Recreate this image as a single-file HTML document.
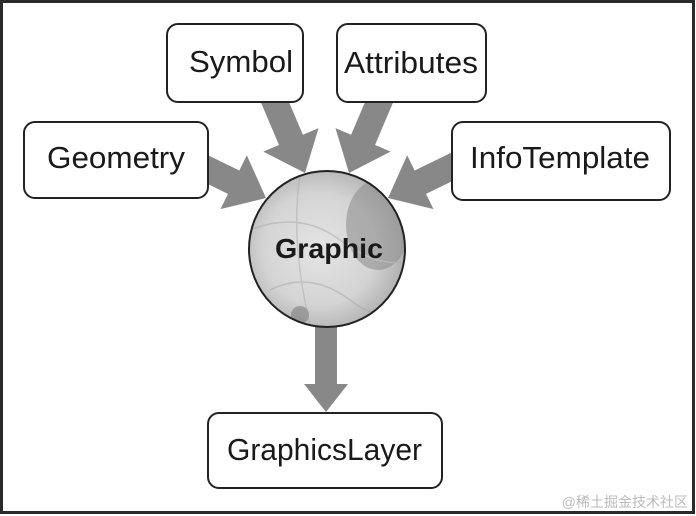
<!DOCTYPE html>
<html><head><meta charset="utf-8"><style>
html,body{margin:0;padding:0;background:#fff;}
svg{display:block;}
</style></head><body>
<svg width="696" height="516" viewBox="0 0 696 516" xmlns="http://www.w3.org/2000/svg">
<defs>
<radialGradient id="g" cx="0.45" cy="0.5" r="0.6">
<stop offset="0" stop-color="#e4e4e4"/>
<stop offset="0.6" stop-color="#d4d4d4"/>
<stop offset="1" stop-color="#a8a8a8"/>
</radialGradient>
<clipPath id="c"><circle cx="327" cy="249" r="78"/></clipPath>
</defs>
<rect x="1.5" y="1.5" width="692" height="511" fill="#fff" stroke="#2a2a2a" stroke-width="3"/>
<g fill="#888">
<g transform="translate(305,173) rotate(67)"><polygon points="0,0 -36,-30 -36,-13 -84,-13 -84,13 -36,13 -36,30"/></g>
<g transform="translate(349,173) rotate(113)"><polygon points="0,0 -36,-30 -36,-13 -84,-13 -84,13 -36,13 -36,30"/></g>
<g transform="translate(266,198) rotate(26)"><polygon points="0,0 -36,-30 -36,-13 -70,-13 -70,13 -36,13 -36,30"/></g>
<g transform="translate(388,198) rotate(154)"><polygon points="0,0 -36,-30 -36,-13 -76,-13 -76,13 -36,13 -36,30"/></g>
<g transform="translate(326,412) rotate(90)"><polygon points="0,0 -28,-22 -28,-11 -88,-11 -88,11 -28,11 -28,22"/></g>
</g>
<circle cx="327" cy="249" r="78" fill="url(#g)"/>
<g clip-path="url(#c)" opacity="0.55">
<ellipse cx="378" cy="225" rx="32" ry="45" fill="#8a8a8a"/>
<path d="M250 230 Q300 210 340 240 T410 260" stroke="#aaa" fill="none" stroke-width="1.5"/>
<path d="M270 290 Q310 270 350 300 T400 290" stroke="#aaa" fill="none" stroke-width="1.5"/>
<path d="M300 175 Q290 240 310 325" stroke="#b0b0b0" fill="none" stroke-width="1.5"/>
<circle cx="300" cy="315" r="9" fill="#777"/>
</g>
<circle cx="327" cy="249" r="78" fill="none" stroke="#222" stroke-width="2"/>
<text x="329" y="258" text-anchor="middle" font-family="Liberation Sans, sans-serif" font-size="28" font-weight="bold" fill="#1a1a1a" textLength="108" lengthAdjust="spacingAndGlyphs">Graphic</text>
<g fill="#fff" stroke="#222" stroke-width="2">
<rect x="167" y="24" width="136" height="78" rx="11"/>
<rect x="337" y="24" width="149" height="78" rx="11"/>
<rect x="24" y="122" width="184" height="76" rx="11"/>
<rect x="452" y="122" width="218" height="78" rx="11"/>
<rect x="208" y="413" width="234" height="75" rx="11"/>
</g>
<g font-family="Liberation Sans, sans-serif" font-size="31" fill="#1a1a1a">
<text x="189" y="72" textLength="104" lengthAdjust="spacingAndGlyphs">Symbol</text>
<text x="344" y="73" textLength="134" lengthAdjust="spacingAndGlyphs">Attributes</text>
<text x="47" y="168" textLength="138" lengthAdjust="spacingAndGlyphs">Geometry</text>
<text x="470" y="168" textLength="180" lengthAdjust="spacingAndGlyphs">InfoTemplate</text>
<text x="227" y="460" textLength="195" lengthAdjust="spacingAndGlyphs">GraphicsLayer</text>
</g>
<text x="688" y="507" text-anchor="end" font-family="Liberation Sans, 'Noto Sans CJK SC', sans-serif" font-size="14" fill="#bbb">@稀土掘金技术社区</text>
</svg>
</body></html>
